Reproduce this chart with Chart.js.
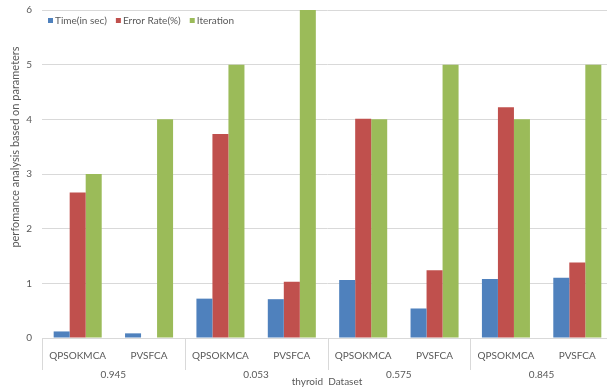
<!DOCTYPE html>
<html>
<head>
<meta charset="utf-8">
<script src="https://cdn.jsdelivr.net/npm/chart.js@4/dist/chart.umd.min.js"></script>
<style>
  html, body { margin: 0; padding: 0; background: #fff; overflow: hidden; }
  #wrap { width: 616px; height: 390px; }
</style>
</head>
<body>
<div id="wrap"><canvas id="c" width="616" height="390"></canvas></div>
<script>
// Methods compared on each thyroid dataset value
const categories = ['QPSOKMCA', 'PVSFCA', 'QPSOKMCA', 'PVSFCA', 'QPSOKMCA', 'PVSFCA', 'QPSOKMCA', 'PVSFCA'];
// Outer axis groups, each spanning two methods
const groupLabels = ['0.945', '0.053', '0.575', '0.845'];

const timeSec = [0.12, 0.085, 0.72, 0.71, 1.06, 0.54, 1.08, 1.10];
const errorRate = [2.66, 0, 3.73, 1.03, 4.01, 1.24, 4.22, 1.38];
const iteration = [3, 4, 5, 6, 4, 5, 4, 5];

const yTicks = [0, 1, 2, 3, 4, 5, 6];

const FONT = 'Lato, "Liberation Sans", sans-serif';
const TEXT = '#595959';
const GRID = '#D9D9D9';

// Draws the grouped outer axis, its dividers, the legend row and both axis titles
const groupAxis = {
  id: 'groupAxis',
  afterDraw(chart) {
    const ctx = chart.ctx;
    const area = chart.chartArea;
    const per = categories.length / groupLabels.length;
    const step = (area.right - area.left) / categories.length;
    ctx.save();
    ctx.strokeStyle = GRID;
    ctx.lineWidth = 1;
    for (let g = 0; g <= groupLabels.length; g++) {
      const px = Math.round(area.left + g * per * step) + 0.5;
      ctx.beginPath();
      ctx.moveTo(px, area.bottom);
      ctx.lineTo(px, 370);
      ctx.stroke();
    }
    ctx.fillStyle = TEXT;
    ctx.font = '10px ' + FONT;
    ctx.textAlign = 'center';
    ctx.textBaseline = 'middle';
    groupLabels.forEach((lab, g) => {
      const cx = area.left + (g + 0.5) * per * step;
      ctx.fillText(lab, cx, 375);
    });
    ctx.fillText('thyroid  Dataset', 327, 382);

    // legend row inside the plot, top-left
    ctx.textAlign = 'left';
    let lx = area.left + 6;
    chart.data.datasets.forEach(ds => {
      ctx.fillStyle = ds.backgroundColor;
      ctx.fillRect(lx, 18, 5, 5);
      ctx.fillStyle = TEXT;
      ctx.fillText(ds.label, lx + 7, 21);
      lx += 7 + ctx.measureText(ds.label).width + 9;
    });

    // vertical value-axis title
    ctx.textAlign = 'center';
    ctx.translate(15, 147);
    ctx.rotate(-Math.PI / 2);
    ctx.font = '11px ' + FONT;
    ctx.fillText('perfomance analysis based on parameters', 0, 0);
    ctx.restore();
  }
};

new Chart(document.getElementById('c'), {
  type: 'bar',
  data: {
    labels: categories,
    datasets: [
      { label: 'Time(in sec)', data: timeSec, backgroundColor: '#4F81BD' },
      { label: 'Error Rate(%)', data: errorRate, backgroundColor: '#C0504D' },
      { label: 'Iteration', data: iteration, backgroundColor: '#9BBB59' }
    ]
  },
  options: {
    responsive: false,
    animation: false,
    devicePixelRatio: 1,
    layout: { autoPadding: false, padding: { top: 10, right: 3, left: 0, bottom: 0 } },
    datasets: { bar: { categoryPercentage: 0.673, barPercentage: 1.0, borderWidth: 0 } },
    plugins: {
      legend: { display: false },
      tooltip: { enabled: false }
    },
    scales: {
      x: {
        grid: { display: false },
        border: { display: false },
        ticks: {
          color: TEXT,
          font: { family: FONT, size: 10 },
          padding: 4,
          maxRotation: 0,
          autoSkip: false
        },
        afterFit(s) { s.height = 52; s.paddingTop = 0; }
      },
      y: {
        min: 0,
        max: 6,
        afterBuildTicks(s) { s.ticks = yTicks.map(v => ({ value: v })); },
        grid: { color: GRID, drawTicks: false },
        border: { display: false },
        ticks: {
          color: TEXT,
          font: { family: FONT, size: 10 },
          padding: 10
        },
        afterFit(s) { s.width = 42; s.paddingTop = 0; s.paddingBottom = 0; }
      }
    }
  },
  plugins: [groupAxis]
});
</script>
</body>
</html>
